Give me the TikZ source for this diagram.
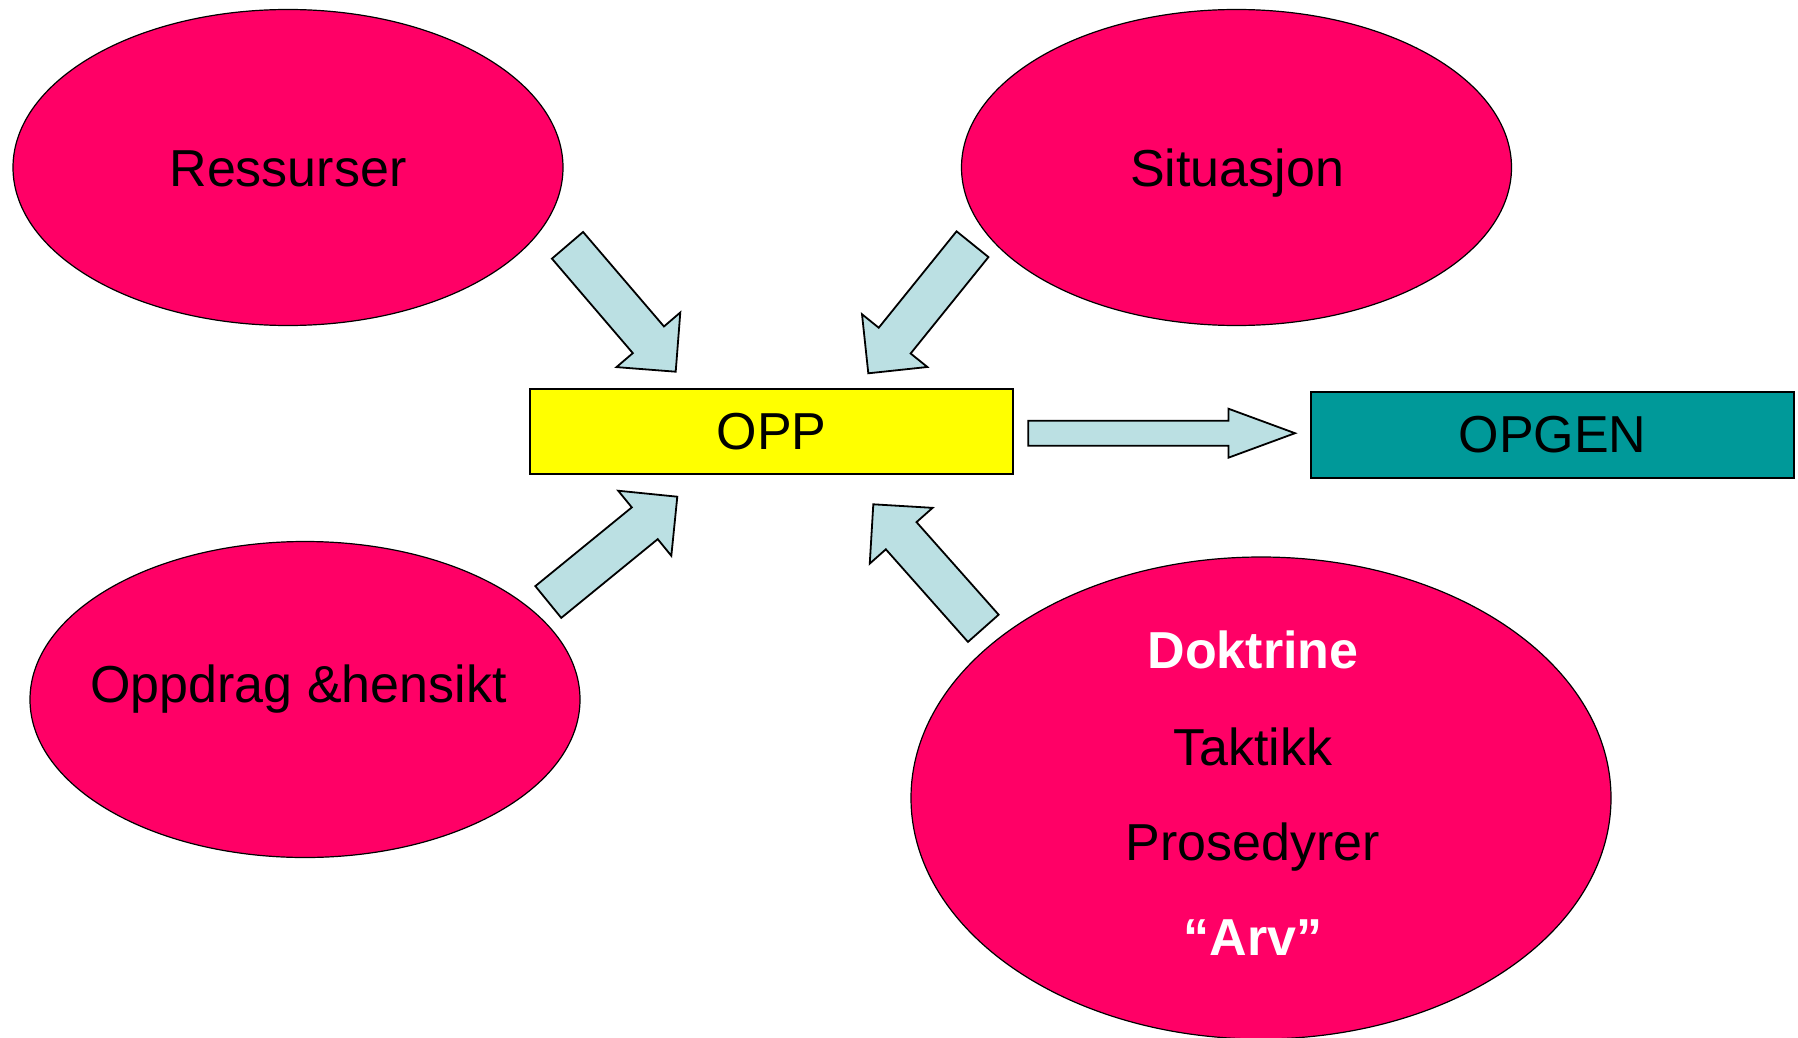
\documentclass[tikz,border=0pt]{standalone}
\usepackage{fontspec}
\setmainfont{Liberation Sans}
\usetikzlibrary{shapes.geometric,calc}

\definecolor{blobpink}{HTML}{FF0066}
\definecolor{oppyellow}{HTML}{FFFF00}
\definecolor{opgenteal}{HTML}{009999}
\definecolor{flowblue}{HTML}{BBE0E3}

% block arrow: tail, tip, half shaft width, half head width, head length
\newcommand{\blockarrow}[5]{%
  \coordinate (hb) at ($(#2)!#5!(#1)$);
  \draw[flow] ($(#1)!#3!90:(#2)$) -- ($(hb)!#3!90:(#2)$) -- ($(hb)!#4!90:(#2)$)
    -- (#2) -- ($(hb)!#4!-90:(#2)$) -- ($(hb)!#3!-90:(#2)$) -- ($(#1)!#3!-90:(#2)$) -- cycle;
}

\begin{document}
\begin{tikzpicture}[x=0.5pt,y=-0.5pt,
    blob/.style ={ellipse, draw, fill=blobpink, line width=0.6pt, inner sep=0pt},
    box/.style ={rectangle, draw, line width=0.8pt, inner sep=0pt,
      minimum width=241.5pt, minimum height=42.5pt, font=\fontsize{26}{31}\selectfont},
    txt/.style ={anchor=base, inner sep=0pt, font=\fontsize{26}{31}\selectfont},
    flow/.style ={draw, fill=flowblue, line width=0.9pt, line join=miter}]
   \useasboundingbox (0,0) rectangle (1798,1038);

   \node[blob, minimum width=275pt, minimum height=158pt] (Res) at (288,167.5) {};
   \node[blob, minimum width=275pt, minimum height=158pt] (Sit) at (1236.5,167.5) {};
   \node[blob, minimum width=275pt, minimum height=158pt] (Opd) at (305,699.5) {};
   \node[blob, minimum width=350pt, minimum height=241pt] (Dok) at (1261,798) {};

   \node[txt] (ResT) at (288,186) {Ressurser};
   \node[txt] (SitT) at (1237,186.5) {Situasjon};
   \node[txt] (OpdT) at (298.5,702.5) {Oppdrag \&hensikt};
   \node[txt, text=white, font=\fontsize{26}{31}\selectfont\bfseries] (Dok1) at (1253,668.5) {Doktrine};
   \node[txt] (Dok2) at (1253,765.5) {Taktikk};
   \node[txt] (Dok3) at (1253,860.5) {Prosedyrer};
   \node[txt, text=white, font=\fontsize{26}{31}\selectfont\bfseries] (Dok4) at (1253,955.5) {“Arv”};

   \node[box, fill=oppyellow] (OPP) at (771.5,431.5) {OPP};
   \node[box, fill=opgenteal, minimum height=43pt] (OPGEN) at (1552.5,435) {OPGEN};

   \coordinate (a1) at (567.5,245.3);  \coordinate (b1) at (675.7,371.7);
   \coordinate (a2) at (972.5,244.2);  \coordinate (b2) at (868.3,373.3);
   \coordinate (a3) at (548.3,602);    \coordinate (b3) at (677.3,496.7);
   \coordinate (a4) at (983.3,628.3);  \coordinate (b4) at (873.3,504.3);
   \coordinate (a5) at (1028.3,433.2); \coordinate (b5) at (1295,433.2);

   \blockarrow{a1}{b1}{10.25pt}{21pt}{21pt}
   \blockarrow{a2}{b2}{10.25pt}{21pt}{21pt}
   \blockarrow{a3}{b3}{10.25pt}{21pt}{21pt}
   \blockarrow{a4}{b4}{10.25pt}{21pt}{21pt}
   \blockarrow{a5}{b5}{6.25pt}{12.25pt}{33.3pt}
\end{tikzpicture}
\end{document}
